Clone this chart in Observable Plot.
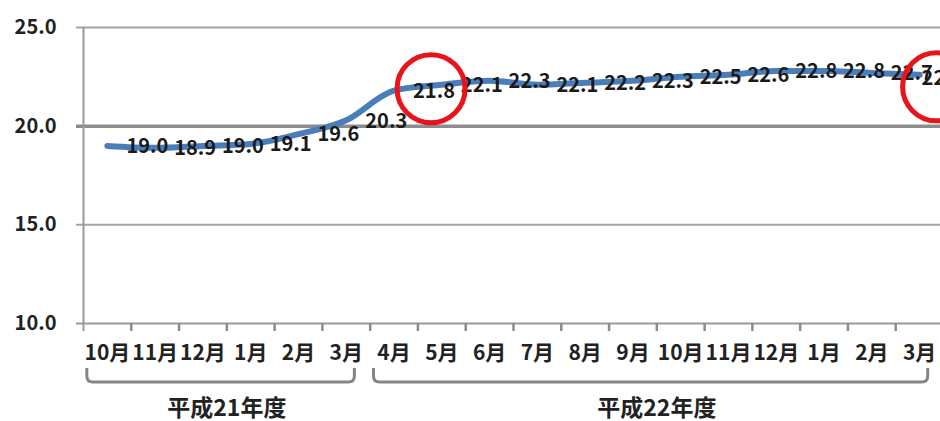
<!DOCTYPE html>
<html>
<head>
<meta charset="utf-8">
<script src="https://cdn.jsdelivr.net/npm/d3@7"></script>
<script src="https://cdn.jsdelivr.net/npm/@observablehq/plot@0.6"></script>
<style>
  html, body { margin: 0; padding: 0; background: #fff; overflow: hidden; width: 940px; height: 421px; }
  #chart svg { overflow: visible; }
</style>
</head>
<body>
<div id="chart"></div>
<script>
// Month categories (Oct H21 .. Mar H22)
const months = ["10月","11月","12月","1月","2月","3月","4月","5月","6月","7月","8月","9月","10月","11月","12月","1月","2月","3月"];
// Fiscal year each month belongs to
const fiscalYears = ["平成21年度","平成21年度","平成21年度","平成21年度","平成21年度","平成21年度",
  "平成22年度","平成22年度","平成22年度","平成22年度","平成22年度","平成22年度",
  "平成22年度","平成22年度","平成22年度","平成22年度","平成22年度","平成22年度"];
// Series values
const values = [19.0, 18.9, 19.0, 19.1, 19.6, 20.3, 21.8, 22.1, 22.3, 22.1, 22.2, 22.3, 22.5, 22.6, 22.8, 22.8, 22.7, 22.6];
// Y tick values
const yTicks = [10, 15, 20, 25];
// Highlighted points (circled labels)
const highlighted = [6, 17];

const font = "'Noto Sans CJK JP', 'Noto Sans', sans-serif";
const data = values.map((v, i) => ({i, month: months[i], fy: fiscalYears[i], value: v}));
const groups = Array.from(d3.group(data, d => d.fy), ([label, rows]) => ({
  label, start: rows[0].i, end: rows[rows.length - 1].i
}));
const boundaries = d3.range(0, months.length + 1);

const plot = Plot.plot({
  width: 940,
  height: 421,
  marginLeft: 83,
  marginRight: -3,
  marginTop: 27,
  marginBottom: 98,
  style: {fontFamily: font, background: "transparent"},
  x: {domain: [0, months.length], axis: null},
  y: {domain: [10, 25], axis: null},
  marks: [
    Plot.ruleY([15, 25], {stroke: "#a3a3a3", strokeWidth: 2, insetLeft: -7}),
    Plot.ruleY([20], {stroke: "#8c8c8c", strokeWidth: 3.5, insetLeft: -7}),
    Plot.ruleY([10], {stroke: "#999", strokeWidth: 2, insetLeft: -7}),
    Plot.ruleX([0], {stroke: "#999", strokeWidth: 2, insetBottom: -8}),
    Plot.axisX({ticks: boundaries.slice(1), tickSize: 8, tickFormat: () => "", label: null,
      stroke: "#8c8c8c", strokeWidth: 2.5}),
    Plot.axisY({ticks: yTicks, tickSize: 0, tickPadding: 27, tickFormat: d3.format(".1f"), label: null,
      fontSize: 20, fontWeight: "bold", fill: "#222"}),
    Plot.text(data, {x: d => d.i + 0.5, text: "month", frameAnchor: "bottom", dy: 36,
      fontSize: 21, fontWeight: "bold", fill: "#222"}),
    Plot.text(groups, {x: d => (d.start + d.end + 1) / 2, text: "label", frameAnchor: "bottom", dy: 92,
      fontSize: 23, fontWeight: "bold", fill: "#222"}),
    Plot.line(data, {x: d => d.i + 0.5, y: "value", stroke: "#4a7ebb", strokeWidth: 6,
      curve: "monotone-x", strokeLinecap: "round"}),
    Plot.text(data.slice(0, -1), {x: d => d.i + 0.5, y: "value", text: d => d.value.toFixed(1),
      textAnchor: "start", dx: 19, dy: 1, fontSize: 20, fontWeight: "bold", fill: "#1a1a1a"}),
    Plot.text(data.slice(-1), {x: d => d.i + 0.5, y: "value", text: d => d.value.toFixed(1),
      textAnchor: "start", dx: 2, dy: 4, fontSize: 20, fontWeight: "bold", fill: "#1a1a1a"}),
    Plot.dot(data.filter(d => d.i === highlighted[0]), {x: d => d.i + 0.5, y: "value", r: 34,
      dx: 37, dy: -2, stroke: "#e8141c", strokeWidth: 5, fill: "none"}),
    Plot.dot(data.filter(d => d.i === highlighted[1]), {x: d => d.i + 0.5, y: "value", r: 34,
      dx: 17, dy: 12, stroke: "#e8141c", strokeWidth: 5, fill: "none"})
  ]
});

// Group brackets under the month labels, positioned through the x scale
const xs = plot.scale("x");
const svg = d3.select(plot);
groups.forEach(g => {
  const x0 = xs.apply(g.start + 0.08);
  const x1 = xs.apply(g.end + 0.68);
  const yTop = 368, yBot = 382, r = 6;
  svg.append("path")
    .attr("d", `M${x0},${yTop} L${x0},${yBot - r} Q${x0},${yBot} ${x0 + r},${yBot} L${x1 - r},${yBot} Q${x1},${yBot} ${x1},${yBot - r} L${x1},${yTop}`)
    .attr("fill", "none")
    .attr("stroke", "#858585")
    .attr("stroke-width", 3);
});

document.getElementById("chart").append(plot);
</script>
</body>
</html>
